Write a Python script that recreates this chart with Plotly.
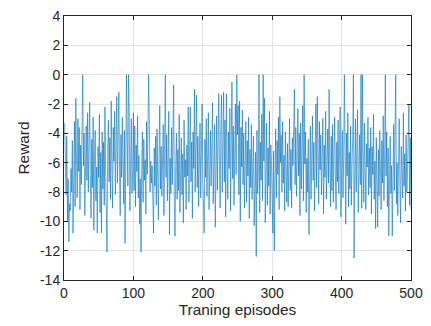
import plotly.graph_objects as go

# Reward per training episode (5 blocks of 100)
reward_001_100 = [
    -3.3, -6.0, -8.2, -4.2, -10.0, -7.1, -11.4, -8.8, -9.3, -6.4,
    -8.0, -4.5, -10.8, -7.4, -3.2, -9.0, -1.6, -5.8, -8.4, -3.0,
    -6.6, -3.6, -9.2, -4.8, -7.5, -3.4, 0.0, -6.2, -4.0, -9.6,
    -5.1, -3.5, -7.2, -2.6, -8.0, -5.4, -1.9, -6.9, -9.8, -4.4,
    -7.7, -2.9, -10.6, -5.6, -3.8, -8.6, -6.3, -10.8, -4.9, -7.0,
    -2.7, -9.4, -5.3, -10.8, -3.9, -7.8, -4.6, -8.9, -2.2, -6.7,
    -9.9, -12.1, -5.0, -3.1, -7.3, -4.3, -8.5, -1.8, -6.0, -9.1,
    -3.6, -5.9, -2.5, -8.2, -4.7, -1.5, -7.4, -3.3, -1.2, -6.5,
    -9.6, -4.1, -7.0, -2.9, -5.7, -8.8, -3.8, -11.5, -6.1, 0.0,
    -4.0, -7.6, 0.0, -2.4, -9.3, -5.2, -3.0, -8.1, -6.4, -2.6,
]
reward_101_200 = [
    -7.9, -3.5, -9.0, -4.8, -6.6, -2.8, -8.4, -5.5, -10.2, -7.1,
    -12.1, -6.0, -3.9, -8.7, -4.4, -7.2, -5.8, -9.5, -3.2, -6.8,
    -4.6, 0.0, -3.5, -8.0, -5.9, -7.4, -6.2, -9.1, -10.8, -5.0,
    -7.6, -4.2, -8.9, -3.7, -6.5, -9.9, -5.3, -2.1, -7.8, -4.9,
    -8.3, -6.0, -3.4, -9.6, -5.6, 0.0, -7.0, -4.1, -8.6, -6.3,
    -2.5, -10.9, -5.7, -8.1, -3.6, -7.5, -4.5, -0.7, -9.0, -11.0,
    -6.2, -4.0, -8.5, -5.1, -7.9, -2.7, -9.4, -6.6, -4.3, -8.2,
    -5.4, -10.1, -3.1, -7.0, -5.8, -9.2, -4.8, -6.9, -2.2, -8.7,
    -5.0, -2.2, -7.3, -4.6, -9.8, -3.9, -6.4, -1.0, -8.0, -5.3,
    -1.4, -7.7, -4.2, -9.0, -6.1, -3.3, -8.4, -5.6, -2.0, -7.2,
]
reward_201_300 = [
    -9.6, -10.8, -4.4, -7.0, -3.0, -8.3, -5.5, -2.6, -9.2, -6.1,
    -3.8, -7.6, -4.9, -1.9, -8.8, -5.2, -3.4, -10.4, -6.7, -2.8,
    -7.9, -4.3, -1.3, -6.2, -9.1, -3.6, -1.4, -8.0, -5.0, -1.2,
    -7.3, -3.1, -9.7, -1.3, -5.8, -8.5, -3.9, -6.4, -2.3, -9.3,
    -4.7, -0.5, -7.1, -3.5, -8.9, -5.3, -2.0, -6.8, 0.0, -4.1,
    -2.1, -8.2, -1.8, -10.0, -3.6, -6.3, -2.4, -7.5, -4.0, -9.1,
    -5.6, -3.2, -8.7, -4.5, -6.9, -2.9, -9.8, -5.1, -7.7, -3.4,
    -8.5, -6.0, -4.2, -10.3, -7.0, -5.3, -12.4, -3.8, -8.1, -6.5,
    0.0, -9.4, -4.6, -7.2, -2.7, -8.6, 0.0, -5.9, -1.6, -10.1,
    -6.6, -3.3, -8.9, -5.0, -7.6, -2.5, -9.5, -4.8, -6.2, -9.0,
]
reward_301_400 = [
    -10.8, -5.2, -12.0, -7.1, -3.7, -8.4, -4.5, -6.8, -2.9, -9.2,
    -1.5, -6.0, -4.1, -8.0, -3.2, -7.4, -5.5, -9.3, -3.9, -6.6,
    -8.7, -4.7, -9.0, -5.8, -3.0, -7.9, -5.1, -9.1, -4.3, -6.2,
    -2.6, -1.0, -7.5, -3.6, -8.3, -5.4, -2.3, -6.9, -4.0, -9.6,
    -3.3, -7.8, -5.0, -2.1, -8.6, 0.0, -6.1, -3.9, -9.4, -5.7,
    -8.0, -4.4, -10.9, -6.7, -3.5, -8.5, -5.3, -2.8, -7.2, -4.6,
    -9.3, -6.0, -2.0, -7.7, -1.5, -5.0, -8.8, -3.2, -6.5, -4.1,
    -8.2, -5.6, -3.0, -9.5, -4.8, -7.0, -2.5, -8.5, -5.9, -3.7,
    -7.4, -1.0, -6.3, -9.0, -4.2, -7.9, -3.4, -8.7, -5.5, -2.9,
    -6.8, -9.2, -4.6, -7.3, -3.1, -8.1, -5.2, -2.2, -9.7, -6.0,
]
reward_401_500 = [
    -3.8, -8.4, -5.7, 0.0, -7.6, -10.2, -4.0, -6.9, -2.6, -9.0,
    -5.3, -7.8, -3.5, -8.9, -6.1, -4.4, 0.0, -12.5, -7.0, -3.0,
    -8.0, -5.2, -2.4, -9.4, -6.6, -4.1, -7.5, 0.0, -9.1, 0.0,
    -5.6, -8.7, -3.3, -7.1, -9.2, -4.7, -6.3, -2.9, -8.2, -5.0,
    -7.7, -3.6, -9.5, -4.9, -6.8, -2.7, -8.5, -5.9, -10.5, -4.3,
    -7.0, -10.4, -5.1, -8.3, -3.8, -6.6, -9.2, -4.5, -7.4, -2.8,
    -8.6, -5.5, 0.0, -6.9, -3.9, -9.0, -5.0, -11.0, -7.5, -4.2,
    -8.1, -6.2, -11.0, -5.3, -3.4, -7.9, -4.7, 0.0, -8.8, -6.0,
    -9.6, -5.1, -3.0, -7.3, -10.1, -4.9, -6.7, -8.4, -2.6, -7.6,
    -5.4, -9.3, -4.1, -8.0, -6.5, -3.3, -2.0, -8.9, -4.3, -9.2,
]

rewards = reward_001_100 + reward_101_200 + reward_201_300 + reward_301_400 + reward_401_500
episodes = list(range(1, len(rewards) + 1))

x_ticks = [0, 100, 200, 300, 400, 500]
y_ticks = [-14, -12, -10, -8, -6, -4, -2, 0, 2, 4]

FONT = "Liberation Sans, Arial, sans-serif"

fig = go.Figure()
fig.add_trace(go.Scatter(
    x=episodes, y=rewards, mode="lines",
    line=dict(color="#0072BD", width=0.6),
    hoverinfo="skip", showlegend=False,
))

axis_common = dict(
    showgrid=True, gridcolor="#e3e3e3", gridwidth=1,
    zeroline=False, showline=True, linecolor="#262626", linewidth=1,
    mirror="ticks", ticks="inside", ticklen=4, tickcolor="#262626",
    tickfont=dict(family=FONT, size=14, color="#262626"),
    title_font=dict(family=FONT, size=15.4, color="#262626"),
)

fig.update_xaxes(range=[0, 500], tickvals=x_ticks, ticktext=[str(v) for v in x_ticks],
                 title_text="Traning episodes", title_standoff=4, **axis_common)
fig.update_yaxes(range=[-14, 4], tickvals=y_ticks, ticktext=[str(v) for v in y_ticks],
                 title_text="Reward", title_standoff=6, **axis_common)

fig.update_layout(
    width=431, height=326,
    margin=dict(l=64, r=18, t=8, b=46),
    paper_bgcolor="white", plot_bgcolor="white",
)

fig.write_html("out.html", config={"displayModeBar": False},
               post_script="document.body.style.margin='0';")
